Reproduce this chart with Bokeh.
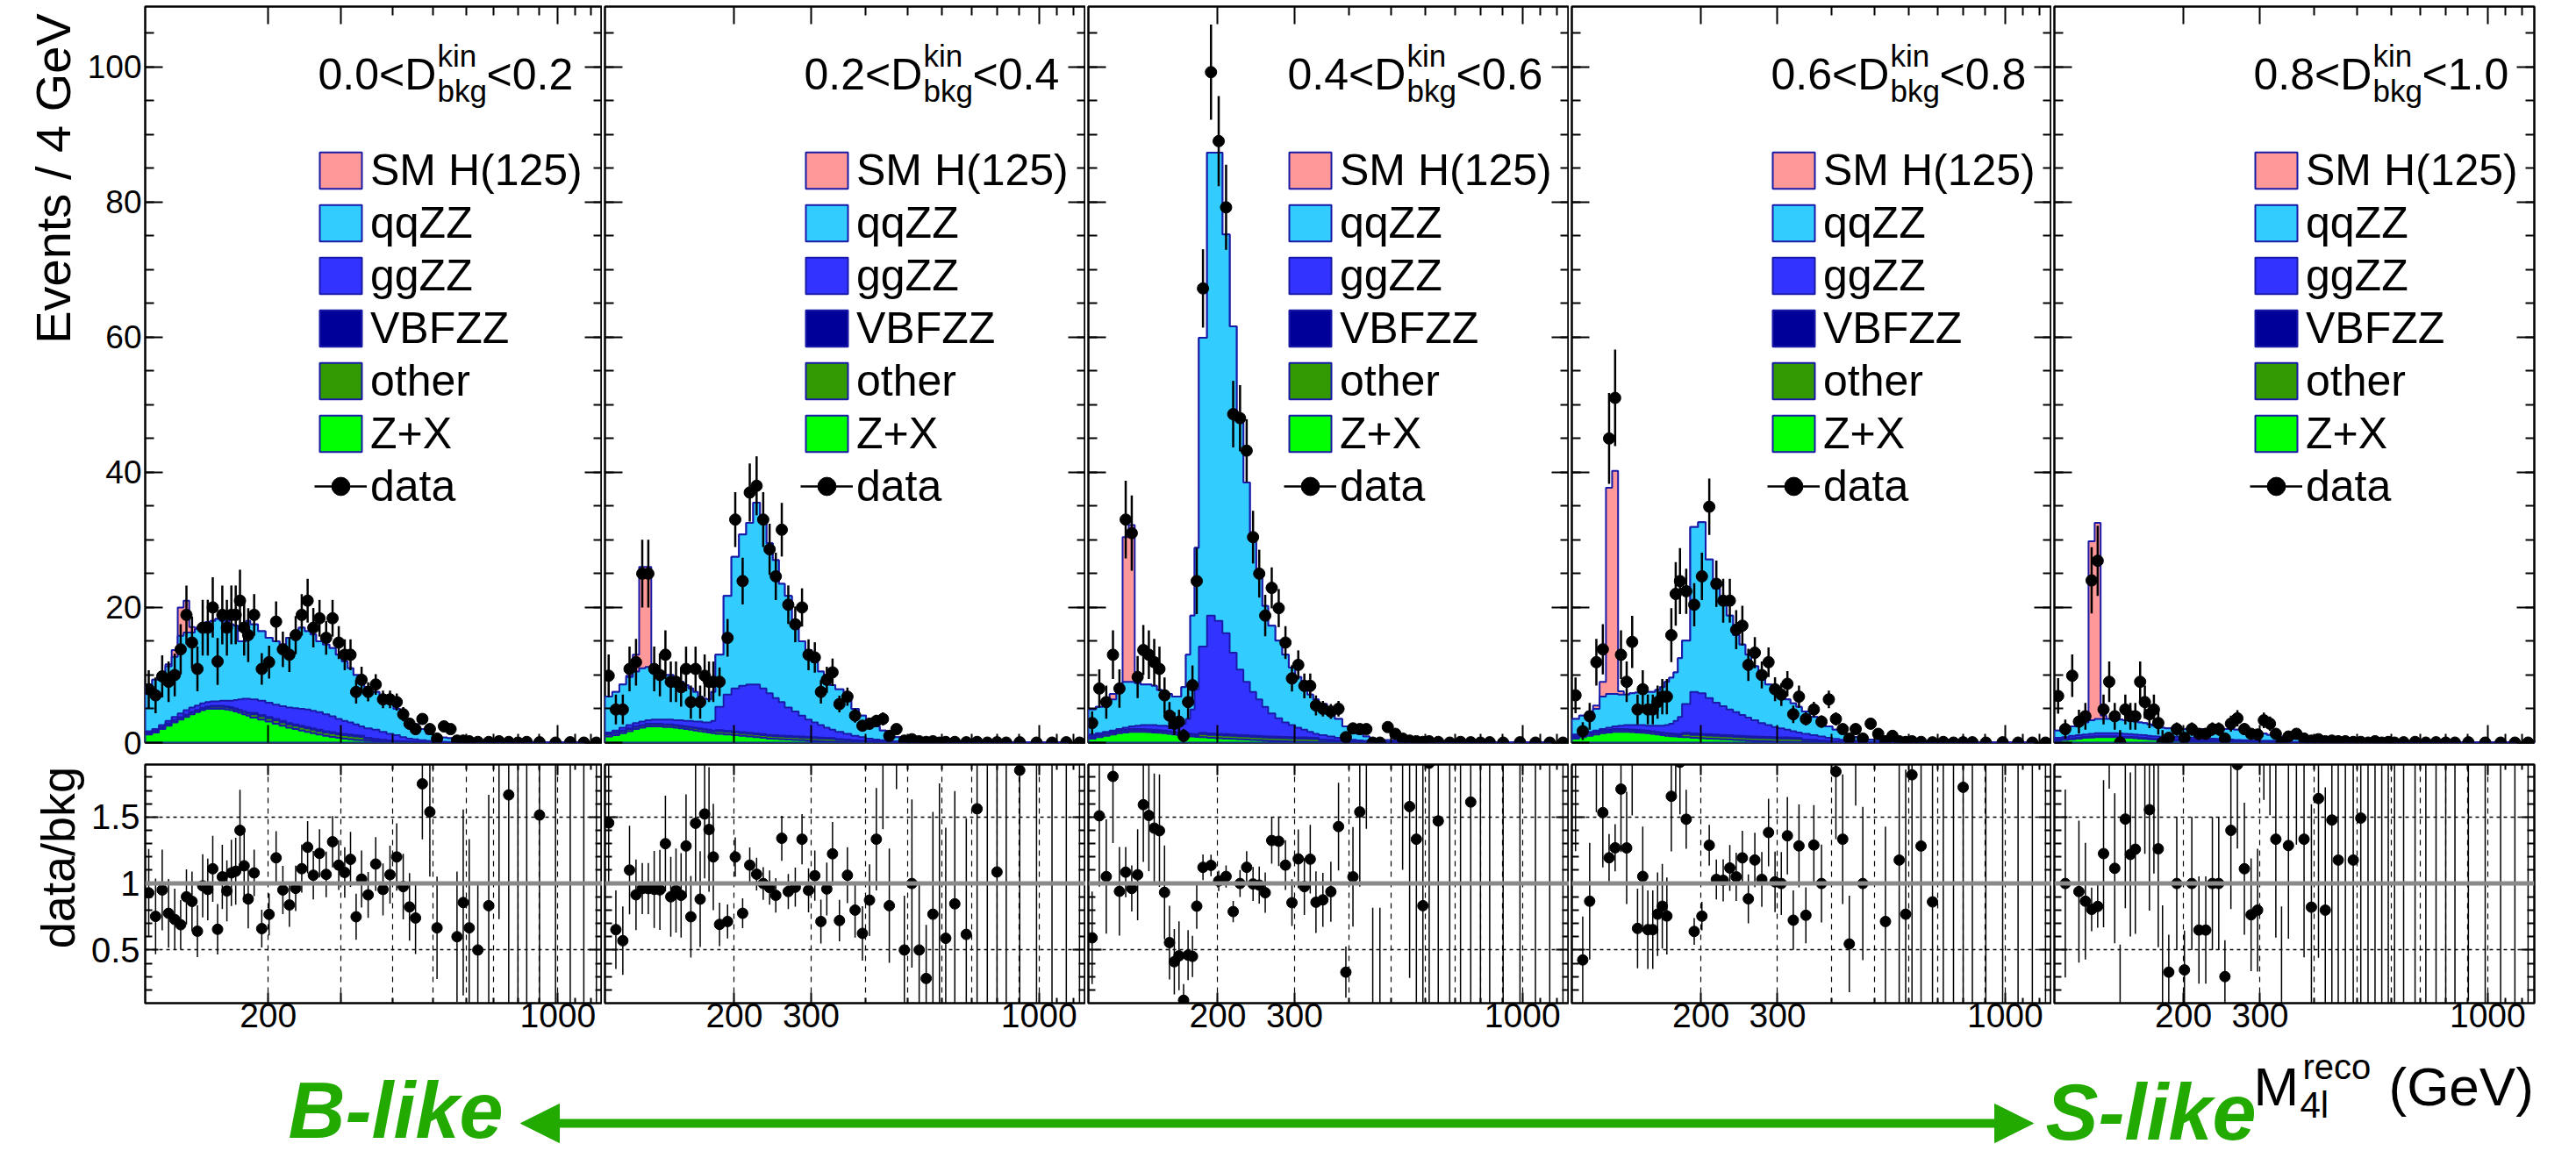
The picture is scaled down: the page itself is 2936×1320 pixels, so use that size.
from math import sqrt, pi
from bokeh.plotting import figure
from bokeh.layouts import row, column
from bokeh.models import (FixedTicker, LinearAxis, LogAxis, Range1d, Span, Label,
                          Legend, LegendItem, Arrow, NormalHead)
from bokeh.embed import file_html
from bokeh.resources import INLINE

FONT = "Liberation Sans"

# ---------------- data ----------------
EDGES = [101, 105, 109, 113, 117, 121, 125, 129, 133, 137,
         141, 145, 149, 153, 157, 161, 165, 169, 173, 177,
         181, 189, 197, 205, 213, 221, 229, 237, 245, 253,
         261, 271, 281, 291, 301, 311, 321, 331, 341, 356,
         371, 386, 401, 416, 431, 446, 461, 481, 501, 521,
         541, 561, 581, 601, 621, 661, 701, 741, 781, 821,
         861, 945, 1029, 1113, 1197, 1280]

PANEL_LABELS = [("0.0", "0.2"), ("0.2", "0.4"), ("0.4", "0.6"), ("0.6", "0.8"), ("0.8", "1.0")]
X_TICK_LABELS = ["200", "300", "1000"]
LEGEND_NAMES = ["SM H(125)", "qqZZ", "ggZZ", "VBFZZ", "other", "Z+X", "data"]

# ---- panel 1: 0.0 < D < 0.2
H1 = [0, 0, 0, 0.3, 1.0, 4.2, 4.7, 0.8, 0.2, 0,
      0, 0, 0, 0, 0, 0, 0, 0, 0, 0,
      0, 0, 0, 0, 0, 0, 0, 0, 0, 0,
      0, 0, 0, 0, 0, 0, 0, 0, 0, 0,
      0, 0, 0, 0, 0, 0, 0, 0, 0, 0,
      0, 0, 0, 0, 0, 0, 0, 0, 0, 0,
      0, 0, 0, 0, 0]
QQ1 = [6.8, 7.3, 7.7, 8.1, 8.9, 11.5, 11.5, 11.1, 11.3, 11.5,
       11.8, 11.9, 12.2, 11.8, 11.8, 11.3, 11.0, 8.6, 8.5, 11.5,
       11.1, 10.3, 9.6, 9.4, 9.1, 10.3, 11.4, 12.0, 11.6, 11.3,
       10.5, 10.3, 10.1, 9.5, 8.8, 8.0, 7.3, 6.6, 6.1, 5.6,
       5.1, 4.7, 3.9, 3.5, 2.8, 2.2, 1.65, 1.05, 0.72, 0.61,
       0.54, 0.41, 0.28, 0.25, 0.16, 0.09, 0.06, 0.045, 0.038, 0.03,
       0.022, 0.014, 0.01, 0.008, 0.007]
GG1 = [0.15, 0.15, 0.25, 0.35, 0.45, 0.55, 0.65, 0.65, 0.65, 0.65,
       0.65, 0.65, 0.65, 0.75, 0.85, 0.95, 1.25, 1.55, 1.85, 2.05,
       2.0, 2.1, 2.1, 2.1, 2.2, 2.3, 2.4, 2.5, 2.6, 2.6,
       2.6, 2.5, 2.35, 2.1, 1.9, 1.8, 1.6, 1.35, 1.4, 1.35,
       1.17, 0.98, 0.84, 0.59, 0.43, 0.37, 0.25, 0.17, 0.11, 0.08,
       0.06, 0.04, 0.04, 0.02, 0.03, 0.02, 0.01, 0.005, 0.002, 0.001,
       0.001, 0.001, 0.001, 0.001, 0.001]
VBF1 = [0.15, 0.15, 0.15, 0.15, 0.15, 0.15, 0.15, 0.15, 0.15, 0.15,
        0.15, 0.15, 0.15, 0.15, 0.15, 0.15, 0.15, 0.15, 0.15, 0.15,
        0.2, 0.2, 0.2, 0.2, 0.2, 0.2, 0.2, 0.2, 0.2, 0.2,
        0.2, 0.2, 0.2, 0.2, 0.2, 0.2, 0.2, 0.2, 0.1, 0.1,
        0.08, 0.07, 0.06, 0.05, 0.04, 0.03, 0.02, 0.02, 0.02, 0.02,
        0.02, 0.02, 0.02, 0.02, 0.005, 0.005, 0.005, 0.005, 0.005, 0.005,
        0.005, 0.005, 0.005, 0.005, 0.005]
OTHER1 = [0.2, 0.2, 0.2, 0.2, 0.2, 0.2, 0.2, 0.2, 0.2, 0.2,
          0.2, 0.3, 0.3, 0.3, 0.3, 0.3, 0.3, 0.3, 0.3, 0.3,
          0.5, 0.5, 0.5, 0.5, 0.5, 0.5, 0.5, 0.5, 0.5, 0.5,
          0.5, 0.5, 0.5, 0.5, 0.5, 0.5, 0.5, 0.5, 0.3, 0.25,
          0.2, 0.15, 0.12, 0.1, 0.08, 0.06, 0.05, 0.04, 0.03, 0.03,
          0.02, 0.02, 0.01, 0.01, 0.005, 0.005, 0.005, 0.005, 0.005, 0.005,
          0.005, 0.005, 0.005, 0.005, 0.005]
ZX1 = [1.2, 1.5, 2.0, 2.5, 3.0, 3.4, 3.8, 4.2, 4.5, 4.8,
       5.0, 5.0, 5.0, 5.0, 4.9, 4.8, 4.6, 4.4, 4.2, 4.0,
       3.7, 3.4, 3.1, 2.8, 2.5, 2.2, 2.0, 1.8, 1.6, 1.4,
       1.2, 1.0, 0.85, 0.7, 0.6, 0.5, 0.4, 0.35, 0.3, 0.2,
       0.15, 0.1, 0.08, 0.06, 0.05, 0.04, 0.03, 0.02, 0.02, 0.01,
       0.01, 0.01, 0, 0, 0, 0, 0, 0, 0, 0,
       0, 0, 0, 0, 0]
DATA1 = [7.9, 7.0, 9.8, 9.0, 10.0, 13.8, 18.9, 14.8, 10.9, 17.0,
         17.0, 20.0, 12.0, 18.9, 17.0, 18.9, 18.9, 21.0, 17.0, 15.9,
         18.9, 10.9, 11.9, 17.9, 13.8, 13.0, 15.9, 18.9, 21.0, 17.0,
         18.4, 15.5, 18.4, 14.8, 13.0, 13.0, 7.5, 9.3, 7.5, 8.6,
         6.4, 6.4, 6.0, 4.2, 2.8, 2.0, 3.5, 2.0, 0.6, 2.4,
         2.0, 0.3, 0.3, 0.2, 0.1, 0.1, 0.2, 0.1, 0.0, 0.1,
         0.05, 0.0, 0.05, 0.0, 0.0]

# ---- panel 2: 0.2 < D < 0.4
H2 = [0, 0, 0, 0.2, 2.5, 15.0, 14.8, 0.3, 0, 0,
      0, 0, 0, 0, 0, 0, 0, 0, 0, 0,
      0, 0, 0, 0, 0, 0, 0, 0, 0, 0,
      0, 0, 0, 0, 0, 0, 0, 0, 0, 0,
      0, 0, 0, 0, 0, 0, 0, 0, 0, 0,
      0, 0, 0, 0, 0, 0, 0, 0, 0, 0,
      0, 0, 0, 0, 0]
QQ2 = [5.3, 5.7, 6.4, 7.1, 7.6, 7.9, 7.9, 7.7, 7.1, 6.6,
       6.6, 6.2, 5.7, 5.3, 4.8, 4.4, 3.7, 3.5, 3.4, 4.3,
       7.7, 14.6, 19.5, 22.4, 23.9, 26.9, 25.0, 22.2, 20.4, 17.5,
       16.5, 13.4, 11.0, 10.3, 8.9, 7.9, 7.5, 6.6, 6.3, 5.1,
       4.0, 3.2, 2.6, 1.95, 1.45, 0.95, 0.62, 0.47, 0.4, 0.32,
       0.29, 0.2, 0.16, 0.12, 0.1, 0.065, 0.05, 0.042, 0.034, 0.025,
       0.016, 0.012, 0.008, 0.006, 0.005]
GG2 = [0.2, 0.3, 0.4, 0.5, 0.5, 0.5, 0.5, 0.6, 0.6, 0.7,
       0.7, 0.7, 0.8, 0.8, 0.9, 0.9, 1.0, 1.0, 1.1, 1.4,
       3.45, 5.35, 6.35, 6.85, 7.15, 7.25, 6.75, 6.15, 5.5, 4.95,
       4.2, 3.65, 3.1, 2.55, 2.2, 1.85, 1.48, 1.21, 1.08, 0.85,
       0.64, 0.52, 0.37, 0.26, 0.2, 0.14, 0.1, 0.06, 0.04, 0.02,
       0.01, 0.01, 0.01, 0.01, 0.008, 0.006, 0.004, 0.003, 0.002, 0.002,
       0.001, 0.001, 0.001, 0.001, 0.001]
VBF2 = [0.1, 0.1, 0.1, 0.1, 0.1, 0.1, 0.1, 0.1, 0.1, 0.1,
        0.1, 0.1, 0.1, 0.1, 0.1, 0.1, 0.1, 0.1, 0.1, 0.1,
        0.15, 0.15, 0.15, 0.15, 0.15, 0.15, 0.15, 0.15, 0.15, 0.15,
        0.15, 0.15, 0.15, 0.15, 0.15, 0.15, 0.15, 0.15, 0.1, 0.1,
        0.08, 0.07, 0.06, 0.05, 0.04, 0.03, 0.02, 0.02, 0.02, 0.02,
        0.02, 0.02, 0.02, 0.02, 0.005, 0.005, 0.005, 0.005, 0.005, 0.005,
        0.005, 0.005, 0.005, 0.005, 0.005]
OTHER2 = [0.3, 0.3, 0.3, 0.3, 0.3, 0.3, 0.3, 0.3, 0.3, 0.3,
          0.3, 0.3, 0.3, 0.3, 0.3, 0.3, 0.3, 0.3, 0.3, 0.3,
          0.4, 0.4, 0.4, 0.4, 0.4, 0.4, 0.4, 0.4, 0.4, 0.4,
          0.4, 0.4, 0.4, 0.4, 0.4, 0.4, 0.4, 0.4, 0.3, 0.25,
          0.2, 0.15, 0.12, 0.1, 0.08, 0.06, 0.05, 0.04, 0.03, 0.03,
          0.02, 0.02, 0.01, 0.01, 0.005, 0.005, 0.005, 0.005, 0.005, 0.005,
          0.005, 0.005, 0.005, 0.005, 0.005]
ZX2 = [0.9, 1.1, 1.4, 1.7, 2.0, 2.2, 2.4, 2.4, 2.4, 2.3,
       2.3, 2.2, 2.1, 2.0, 1.9, 1.8, 1.7, 1.6, 1.5, 1.4,
       1.3, 1.2, 1.1, 1.0, 0.9, 0.8, 0.7, 0.6, 0.55, 0.5,
       0.45, 0.4, 0.35, 0.3, 0.25, 0.2, 0.17, 0.14, 0.12, 0.1,
       0.08, 0.06, 0.05, 0.04, 0.03, 0.02, 0.01, 0.01, 0.01, 0.01,
       0.01, 0.01, 0.01, 0.01, 0, 0, 0, 0, 0, 0,
       0, 0, 0, 0, 0]
DATA2 = [9.9, 4.9, 4.9, 10.9, 11.9, 25.0, 25.0, 10.9, 10.0, 13.0,
         9.0, 9.0, 8.2, 10.9, 6.0, 10.9, 6.0, 9.9, 9.0, 9.0,
         9.0, 15.5, 33.0, 23.9, 37.0, 38.0, 33.0, 28.6, 24.6, 31.5,
         20.4, 17.5, 20.0, 13.0, 12.6, 7.5, 9.3, 10.4, 5.7, 6.8,
         4.0, 2.5, 2.8, 3.2, 3.5, 1.0, 2.0, 0.3, 0.5, 0.2,
         0.1, 0.2, 0.0, 0.1, 0.1, 0.05, 0.1, 0.0, 0.05, 0.0,
         0.05, 0.0, 0.0, 0.05, 0.0]

# ---- panel 3: 0.4 < D < 0.6
H3 = [0, 0, 0, 0.8, 1.0, 21.4, 23.2, 0.3, 0, 0,
      0, 0, 0, 0, 0, 0, 0, 0, 0, 0,
      0, 0, 0, 0, 0, 0, 0, 0, 0, 0,
      0, 0, 0, 0, 0, 0, 0, 0, 0, 0,
      0, 0, 0, 0, 0, 0, 0, 0, 0, 0,
      0, 0, 0, 0, 0, 0, 0, 0, 0, 0,
      0, 0, 0, 0, 0]
QQ3 = [3.7, 3.9, 4.1, 4.6, 5.5, 6.8, 6.6, 6.3, 6.0, 6.0,
       5.8, 5.3, 5.0, 4.8, 4.4, 4.3, 5.4, 9.5, 13.9, 20.9,
       45.7, 68.5, 69.3, 59.0, 48.3, 37.2, 29.5, 23.0, 18.9, 14.9,
       13.0, 11.5, 10.0, 8.5, 7.5, 6.7, 5.5, 5.1, 4.6, 4.0,
       2.8, 1.85, 1.58, 0.98, 0.65, 0.41, 0.31, 0.25, 0.2, 0.16,
       0.13, 0.1, 0.08, 0.065, 0.05, 0.035, 0.028, 0.02, 0.017, 0.014,
       0.01, 0.006, 0.005, 0.004, 0.002]
GG3 = [0.2, 0.2, 0.2, 0.2, 0.2, 0.3, 0.4, 0.5, 0.6, 0.65,
       0.7, 0.65, 0.7, 0.7, 0.8, 1.0, 1.4, 2.15, 3.6, 6.65,
       12.75, 17.45, 16.7, 14.95, 12.1, 9.65, 7.9, 6.45, 5.4, 4.35,
       3.38, 2.72, 2.15, 1.78, 1.41, 1.13, 0.85, 0.57, 0.63, 0.49,
       0.37, 0.29, 0.21, 0.15, 0.11, 0.09, 0.06, 0.03, 0.02, 0.01,
       0.01, 0.01, 0.01, 0.01, 0.01, 0.007, 0.005, 0.003, 0.002, 0.001,
       0.001, 0.001, 0.001, 0.001, 0.001]
VBF3 = [0.15, 0.15, 0.15, 0.15, 0.15, 0.15, 0.15, 0.15, 0.15, 0.15,
        0.15, 0.15, 0.15, 0.15, 0.15, 0.15, 0.15, 0.15, 0.15, 0.15,
        0.2, 0.2, 0.2, 0.2, 0.2, 0.2, 0.2, 0.2, 0.2, 0.2,
        0.2, 0.2, 0.2, 0.2, 0.2, 0.2, 0.2, 0.2, 0.1, 0.1,
        0.08, 0.07, 0.06, 0.05, 0.04, 0.03, 0.02, 0.02, 0.02, 0.02,
        0.02, 0.02, 0.02, 0.02, 0.003, 0.003, 0.003, 0.003, 0.003, 0.003,
        0.003, 0.003, 0.003, 0.003, 0.003]
OTHER3 = [0.25, 0.25, 0.25, 0.25, 0.25, 0.25, 0.25, 0.25, 0.25, 0.25,
          0.25, 0.25, 0.25, 0.25, 0.25, 0.25, 0.25, 0.25, 0.25, 0.25,
          0.45, 0.45, 0.45, 0.45, 0.45, 0.45, 0.45, 0.45, 0.45, 0.45,
          0.45, 0.45, 0.45, 0.45, 0.45, 0.45, 0.45, 0.45, 0.3, 0.25,
          0.2, 0.15, 0.12, 0.1, 0.08, 0.06, 0.05, 0.04, 0.03, 0.03,
          0.02, 0.02, 0.01, 0.01, 0.005, 0.005, 0.005, 0.005, 0.005, 0.005,
          0.005, 0.005, 0.005, 0.005, 0.005]
ZX3 = [0.6, 0.8, 1.0, 1.2, 1.4, 1.5, 1.6, 1.6, 1.6, 1.55,
       1.5, 1.45, 1.4, 1.3, 1.2, 1.1, 1.0, 0.95, 0.9, 0.85,
       0.8, 0.7, 0.65, 0.6, 0.55, 0.5, 0.45, 0.4, 0.35, 0.3,
       0.27, 0.23, 0.2, 0.17, 0.14, 0.12, 0.1, 0.08, 0.07, 0.06,
       0.05, 0.04, 0.03, 0.02, 0.02, 0.01, 0.01, 0.01, 0.01, 0.01,
       0.01, 0, 0, 0, 0, 0, 0, 0, 0, 0,
       0, 0, 0, 0, 0]
DATA3 = [2.9, 8.0, 6.0, 13.0, 8.0, 33.0, 31.0, 9.7, 13.7, 13.0,
         11.9, 10.9, 7.0, 4.0, 2.8, 3.1, 1.0, 6.0, 8.5, 23.9,
         67.2, 99.2, 89.0, 79.2, 48.6, 48.0, 43.2, 30.4, 25.0, 18.8,
         22.9, 19.9, 14.8, 9.5, 11.5, 8.4, 8.4, 5.5, 5.0, 4.6,
         5.0, 0.8, 2.1, 2.0, 2.0, 0.0, 0.0, 2.3, 1.3, 0.6,
         0.3, 0.2, 0.1, 0.2, 0.1, 0.0, 0.1, 0.05, 0.0, 0.05,
         0.0, 0.05, 0.0, 0.0, 0.0]

# ---- panel 4: 0.6 < D < 0.8
H4 = [0, 0, 0, 0.5, 2.2, 30.5, 33.0, 0.5, 0, 0,
      0, 0, 0, 0, 0, 0, 0, 0, 0, 0,
      0, 0, 0, 0, 0, 0, 0, 0, 0, 0,
      0, 0, 0, 0, 0, 0, 0, 0, 0, 0,
      0, 0, 0, 0, 0, 0, 0, 0, 0, 0,
      0, 0, 0, 0, 0, 0, 0, 0, 0, 0,
      0, 0, 0, 0, 0]
QQ4 = [2.3, 2.6, 2.9, 3.2, 4.8, 5.0, 4.8, 4.6, 4.5, 4.7,
       4.8, 4.9, 5.0, 5.0, 5.3, 5.7, 6.4, 6.8, 7.2, 8.7,
       9.4, 24.4, 25.3, 20.5, 16.9, 15.1, 13.9, 11.4, 10.4, 9.3,
       8.0, 6.8, 6.0, 5.5, 5.0, 4.5, 4.1, 3.8, 3.3, 2.7,
       2.2, 1.7, 1.35, 1.08, 0.78, 0.55, 0.42, 0.32, 0.25, 0.2,
       0.16, 0.12, 0.09, 0.07, 0.055, 0.04, 0.03, 0.023, 0.018, 0.014,
       0.01, 0.006, 0.004, 0.003, 0.002]
GG4 = [0.2, 0.2, 0.2, 0.2, 0.2, 0.3, 0.4, 0.5, 0.6, 0.65,
       0.7, 0.75, 0.7, 0.8, 0.9, 1.0, 1.2, 1.45, 1.9, 2.55,
       4.25, 6.15, 6.0, 5.35, 4.7, 4.25, 3.8, 3.45, 3.1, 2.75,
       2.38, 2.02, 1.75, 1.48, 1.31, 1.13, 0.95, 0.77, 0.83, 0.69,
       0.57, 0.44, 0.34, 0.25, 0.18, 0.15, 0.1, 0.06, 0.04, 0.02,
       0.01, 0.01, 0.01, 0.01, 0.015, 0.01, 0.007, 0.005, 0.003, 0.002,
       0.002, 0.001, 0.001, 0.001, 0.001]
VBF4 = [0.15, 0.15, 0.15, 0.15, 0.15, 0.15, 0.15, 0.15, 0.15, 0.15,
        0.15, 0.15, 0.15, 0.15, 0.15, 0.15, 0.15, 0.15, 0.15, 0.15,
        0.2, 0.2, 0.2, 0.2, 0.2, 0.2, 0.2, 0.2, 0.2, 0.2,
        0.2, 0.2, 0.2, 0.2, 0.2, 0.2, 0.2, 0.2, 0.1, 0.1,
        0.08, 0.07, 0.06, 0.05, 0.04, 0.03, 0.02, 0.02, 0.02, 0.02,
        0.02, 0.02, 0.02, 0.02, 0.003, 0.003, 0.003, 0.003, 0.003, 0.003,
        0.003, 0.003, 0.003, 0.003, 0.003]
OTHER4 = [0.25, 0.25, 0.25, 0.25, 0.25, 0.25, 0.25, 0.25, 0.25, 0.25,
          0.25, 0.25, 0.25, 0.25, 0.25, 0.25, 0.25, 0.25, 0.25, 0.25,
          0.45, 0.45, 0.45, 0.45, 0.45, 0.45, 0.45, 0.45, 0.45, 0.45,
          0.45, 0.45, 0.45, 0.45, 0.45, 0.45, 0.45, 0.45, 0.3, 0.25,
          0.2, 0.15, 0.12, 0.1, 0.08, 0.06, 0.05, 0.04, 0.03, 0.03,
          0.02, 0.02, 0.01, 0.01, 0.005, 0.005, 0.005, 0.005, 0.005, 0.005,
          0.005, 0.005, 0.005, 0.005, 0.005]
ZX4 = [0.6, 0.8, 1.0, 1.2, 1.4, 1.5, 1.6, 1.6, 1.6, 1.55,
       1.5, 1.45, 1.4, 1.3, 1.2, 1.1, 1.0, 0.95, 0.9, 0.85,
       0.8, 0.7, 0.65, 0.6, 0.55, 0.5, 0.45, 0.4, 0.35, 0.3,
       0.27, 0.23, 0.2, 0.17, 0.14, 0.12, 0.1, 0.08, 0.07, 0.06,
       0.05, 0.04, 0.03, 0.02, 0.02, 0.01, 0.01, 0.01, 0.01, 0.01,
       0.01, 0, 0, 0, 0, 0, 0, 0, 0, 0,
       0, 0, 0, 0, 0]
DATA4 = [7.0, 1.7, 3.9, 11.9, 13.8, 45.0, 51.0, 13.0, 9.0, 14.9,
         4.9, 7.9, 4.9, 4.9, 6.0, 6.8, 6.8, 15.9, 22.0, 23.9,
         22.4, 20.4, 24.6, 34.9, 23.5, 21.0, 21.0, 16.7, 17.3, 11.5,
         13.3, 10.0, 11.9, 7.9, 7.1, 8.7, 4.2, 6.8, 3.5, 4.9,
         3.1, 6.4, 3.5, 2.0, 0.6, 2.0, 0.6, 2.8, 1.3, 0.2,
         1.0, 0.2, 0.1, 0.2, 0.1, 0.05, 0.1, 0.0, 0.05, 0.05,
         0.0, 0.05, 0.0, 0.0, 0.0]

# ---- panel 5: 0.8 < D < 1.0
H5 = [0, 0, 0, 0.5, 1.5, 26.5, 29.0, 0.5, 0, 0,
      0, 0, 0, 0, 0, 0, 0, 0, 0, 0,
      0, 0, 0, 0, 0, 0, 0, 0, 0, 0,
      0, 0, 0, 0, 0, 0, 0, 0, 0, 0,
      0, 0, 0, 0, 0, 0, 0, 0, 0, 0,
      0, 0, 0, 0, 0, 0, 0, 0, 0, 0,
      0, 0, 0, 0, 0]
QQ5 = [1.1, 1.2, 1.4, 1.7, 1.8, 2.0, 2.1, 2.1, 2.1, 2.1,
       2.05, 2.0, 1.95, 1.9, 1.85, 1.8, 1.7, 1.55, 1.4, 1.35,
       1.25, 1.15, 1.2, 1.25, 1.3, 1.35, 1.4, 1.45, 1.5, 1.55,
       1.5, 1.45, 1.4, 1.23, 1.06, 0.9, 0.73, 0.65, 0.58, 0.45,
       0.37, 0.285, 0.23, 0.18, 0.138, 0.105, 0.08, 0.065, 0.048, 0.04,
       0.032, 0.024, 0.02, 0.016, 0.012, 0.01, 0.008, 0.006, 0.005, 0.004,
       0.003, 0.002, 0.001, 0.001, 0.0005]
GG5 = [0.25, 0.25, 0.35, 0.35, 0.35, 0.4, 0.45, 0.45, 0.45, 0.45,
       0.45, 0.45, 0.4, 0.4, 0.4, 0.4, 0.35, 0.35, 0.35, 0.32,
       0.3, 0.35, 0.33, 0.31, 0.3, 0.27, 0.24, 0.21, 0.18, 0.15,
       0.12, 0.08, 0.04, 0.02, 0.02, 0.02, 0.02, 0.02, 0.045, 0.03,
       0.02, 0.02, 0.015, 0.01, 0.005, 0.005, 0.005, 0.005, 0.004, 0.004,
       0.003, 0.003, 0.002, 0.002, 0.002, 0.001, 0.001, 0.001, 0.001, 0.001,
       0.001, 0.001, 0.001, 0.001, 0.001]
VBF5 = [0.05, 0.05, 0.05, 0.05, 0.05, 0.05, 0.05, 0.05, 0.05, 0.05,
        0.05, 0.05, 0.05, 0.05, 0.05, 0.05, 0.05, 0.05, 0.05, 0.05,
        0.1, 0.1, 0.1, 0.1, 0.1, 0.1, 0.1, 0.1, 0.1, 0.1,
        0.1, 0.1, 0.1, 0.1, 0.1, 0.1, 0.1, 0.1, 0.03, 0.03,
        0.03, 0.03, 0.03, 0.03, 0.03, 0.03, 0.01, 0.01, 0.01, 0.01,
        0.01, 0.01, 0.01, 0.01, 0.001, 0.001, 0.001, 0.001, 0.001, 0.001,
        0.001, 0.001, 0.001, 0.001, 0.001]
OTHER5 = [0.1, 0.1, 0.1, 0.1, 0.1, 0.1, 0.1, 0.1, 0.1, 0.1,
          0.1, 0.1, 0.1, 0.1, 0.1, 0.1, 0.1, 0.1, 0.1, 0.1,
          0.1, 0.1, 0.1, 0.1, 0.1, 0.1, 0.1, 0.1, 0.1, 0.1,
          0.1, 0.1, 0.1, 0.1, 0.1, 0.1, 0.1, 0.1, 0.03, 0.03,
          0.03, 0.03, 0.03, 0.03, 0.03, 0.03, 0.005, 0.005, 0.005, 0.005,
          0.005, 0.005, 0.005, 0.005, 0.005, 0.005, 0.005, 0.005, 0.005, 0.005,
          0.005, 0.005, 0.005, 0.005, 0.005]
ZX5 = [0.3, 0.4, 0.5, 0.6, 0.7, 0.75, 0.8, 0.8, 0.8, 0.8,
       0.75, 0.7, 0.7, 0.65, 0.6, 0.55, 0.5, 0.45, 0.4, 0.38,
       0.35, 0.3, 0.27, 0.24, 0.2, 0.18, 0.16, 0.14, 0.12, 0.1,
       0.08, 0.07, 0.06, 0.05, 0.04, 0.03, 0.025, 0.02, 0.015, 0.01,
       0, 0, 0, 0, 0, 0, 0, 0, 0, 0,
       0, 0, 0, 0, 0, 0, 0, 0, 0, 0,
       0, 0, 0, 0, 0]
DATA5 = [6.9, 2.0, 9.9, 3.1, 3.9, 24.0, 26.9, 4.9, 9.0, 3.9,
         0.0, 4.9, 3.9, 3.9, 9.0, 6.0, 4.2, 4.9, 2.9, 0.0,
         0.7, 2.0, 0.7, 2.0, 1.3, 1.3, 2.0, 2.0, 0.6, 2.8,
         3.6, 2.0, 1.3, 1.2, 3.3, 2.8, 1.3, 0.0, 0.9, 1.3,
         0.6, 0.3, 0.5, 0.2, 0.3, 0.2, 0.2, 0.1, 0.1, 0.0,
         0.2, 0.0, 0.1, 0.0, 0.05, 0.1, 0.0, 0.05, 0.0, 0.0,
         0.05, 0.0, 0.0, 0.0, 0.0]

PANELS = [
    dict(h=H1, qq=QQ1, gg=GG1, vbf=VBF1, other=OTHER1, zx=ZX1, data=DATA1),
    dict(h=H2, qq=QQ2, gg=GG2, vbf=VBF2, other=OTHER2, zx=ZX2, data=DATA2),
    dict(h=H3, qq=QQ3, gg=GG3, vbf=VBF3, other=OTHER3, zx=ZX3, data=DATA3),
    dict(h=H4, qq=QQ4, gg=GG4, vbf=VBF4, other=OTHER4, zx=ZX4, data=DATA4),
    dict(h=H5, qq=QQ5, gg=GG5, vbf=VBF5, other=OTHER5, zx=ZX5, data=DATA5),
]

# ---------------- style ----------------
C_H, C_QQ, C_GG, C_VBF, C_OTH, C_ZX = "#ff9999", "#33ccff", "#3333ff", "#000099", "#339900", "#00ff00"
OUTLINE = "#1a1aa8"
GREEN = "#22aa00"

STRIP_W = 96
FRAME_W = [521, 548, 548, 547, 547]
LEFT_B = [165 - STRIP_W, 3, 3, 3, 3]
RIGHT_B = [0, 0, 0, 0, 48]
TOP_FH = 839
RAT_FH = 272
TOP_BOT_B = 23
RAT_TOP_B = 2
TOP_H = 7 + TOP_FH + TOP_BOT_B
RAT_H = RAT_TOP_B + RAT_FH + 50
BASE_SHIFT = 0.28  # em shift applied to alphabetic-baseline labels

X_MAJOR = [200, 300, 1000]
X_MINOR = [400, 500, 600, 700, 800, 900, 1100, 1200]

NB = len(EDGES) - 1
CENTERS = [(EDGES[i] + EDGES[i + 1]) / 2 for i in range(NB)]
WIDTHS = [EDGES[i + 1] - EDGES[i] for i in range(NB)]


def step_poly(vals):
    xs, ys = [EDGES[0]], [0.0]
    for i, v in enumerate(vals):
        xs += [EDGES[i], EDGES[i + 1]]
        ys += [v, v]
    xs.append(EDGES[-1])
    ys.append(0.0)
    return xs, ys


def style_axis(ax, major_in, minor_in, label_px=None, standoff=4):
    ax.major_tick_in = major_in
    ax.major_tick_out = 0
    ax.minor_tick_in = minor_in
    ax.minor_tick_out = 0
    ax.major_tick_line_width = 2
    ax.minor_tick_line_width = 2
    ax.major_tick_line_color = "black"
    ax.minor_tick_line_color = "black"
    ax.axis_line_color = None
    ax.axis_label = None
    if label_px is None:
        ax.major_label_text_font_size = "0px"
        ax.major_label_standoff = 0
    else:
        ax.major_label_text_font_size = label_px
        ax.major_label_text_font = FONT
        ax.major_label_text_color = "black"
        ax.major_label_standoff = standoff


def base_fig(i, y0, y1, fh, top_b, bottom_b):
    p = figure(x_axis_type="log", x_range=Range1d(EDGES[0], EDGES[-1]), y_range=Range1d(y0, y1),
               frame_width=FRAME_W[i], frame_height=fh,
               min_border_left=LEFT_B[i], min_border_right=RIGHT_B[i],
               min_border_top=top_b, min_border_bottom=bottom_b,
               toolbar_location=None, output_backend="svg")
    p.outline_line_color = "black"
    p.outline_line_width = 2.5
    p.background_fill_color = "white"
    p.border_fill_color = "white"
    return p


def x_overrides(i):
    d = {200: "200", 300: "300", 1000: "1000"}
    if i == 0:
        d[300] = ""
    return d


def make_top(i, comp):
    p = base_fig(i, 0, 108.9, TOP_FH, 7, TOP_BOT_B)
    p.xgrid.visible = False
    p.ygrid.visible = False
    p.xaxis.ticker = FixedTicker(ticks=X_MAJOR, minor_ticks=X_MINOR)
    style_axis(p.xaxis[0], 20, 10)
    p.yaxis.ticker = FixedTicker(ticks=[0, 20, 40, 60, 80, 100], minor_ticks=list(range(5, 110, 5)))
    if i == 0:
        style_axis(p.yaxis[0], 20, 10, "37px", 4)
    else:
        style_axis(p.yaxis[0], 20, 10)
    ax_top = LogAxis(ticker=FixedTicker(ticks=X_MAJOR, minor_ticks=X_MINOR))
    style_axis(ax_top, 20, 10)
    p.add_layout(ax_top, "above")
    ax_r = LinearAxis(ticker=FixedTicker(ticks=[0, 20, 40, 60, 80, 100], minor_ticks=list(range(5, 110, 5))))
    style_axis(ax_r, 20, 10)
    p.add_layout(ax_r, "right")

    zx, oth, vbf, gg, qq, h = comp["zx"], comp["other"], comp["vbf"], comp["gg"], comp["qq"], comp["h"]
    l1 = list(zx)
    l2 = [a + b for a, b in zip(l1, oth)]
    l3 = [a + b for a, b in zip(l2, vbf)]
    l4 = [a + b for a, b in zip(l3, gg)]
    l5 = [a + b for a, b in zip(l4, qq)]
    l6 = [a + b for a, b in zip(l5, h)]
    rends = {}
    for key, lev, col in [("h", l6, C_H), ("qq", l5, C_QQ), ("gg", l4, C_GG),
                          ("vbf", l3, C_VBF), ("other", l2, C_OTH), ("zx", l1, C_ZX)]:
        xs, ys = step_poly(lev)
        rends[key] = p.patch(xs, ys, fill_color=col, line_color=OUTLINE, line_width=2)

    data = comp["data"]
    lo, hi = [], []
    for d, w in zip(data, WIDTHS):
        if d > 0:
            e = sqrt(4.0 * d / w)
            lo.append(d - e)
            hi.append(d + e)
        else:
            lo.append(0.0)
            hi.append(1.84 * 4.0 / w)
    seg = p.segment(x0=CENTERS, y0=lo, x1=CENTERS, y1=hi, line_color="black", line_width=2.5)
    sc = p.scatter(CENTERS, data, size=13, fill_color="black", line_color="black")

    # panel title with sub/superscripts (screen units relative to the frame)
    lo_s, hi_s = PANEL_LABELS[i]
    tl = 197 if i == 0 else 227
    yb = 748
    for txt, dx, dy, fs in [(lo_s + "<D", 0, 0, 50), ("kin", 136, 25, 35),
                            ("bkg", 136, -15, 35), ("<" + hi_s, 192, 0, 50)]:
        p.add_layout(Label(x=tl + dx, y=yb + dy + BASE_SHIFT * fs, x_units="screen", y_units="screen",
                           text=txt, text_font=FONT, text_font_size=f"{fs}px", text_color="black",
                           text_baseline="alphabetic", text_align="left"))

    items = [LegendItem(label=LEGEND_NAMES[0], renderers=[rends["h"]]),
             LegendItem(label=LEGEND_NAMES[1], renderers=[rends["qq"]]),
             LegendItem(label=LEGEND_NAMES[2], renderers=[rends["gg"]]),
             LegendItem(label=LEGEND_NAMES[3], renderers=[rends["vbf"]]),
             LegendItem(label=LEGEND_NAMES[4], renderers=[rends["other"]]),
             LegendItem(label=LEGEND_NAMES[5], renderers=[rends["zx"]]),
             LegendItem(label=LEGEND_NAMES[6], renderers=[seg, sc])]
    lx = 193 if i == 0 else 223
    leg = Legend(items=items, location=(lx, 263), padding=0, margin=0, spacing=2,
                 glyph_width=60, glyph_height=52, label_height=52, label_standoff=4,
                 label_text_font=FONT, label_text_font_size="50px", label_text_color="black",
                 border_line_color=None, background_fill_alpha=0)
    p.add_layout(leg)
    return p


def make_ratio(i, comp):
    p = base_fig(i, 0.1, 1.895, RAT_FH, RAT_TOP_B, 50)
    p.xaxis.ticker = FixedTicker(ticks=X_MAJOR, minor_ticks=X_MINOR)
    style_axis(p.xaxis[0], 12, 6, "39px", 0)
    p.xaxis.major_label_overrides = x_overrides(i)
    yminor = [0.2, 0.3, 0.4, 0.6, 0.7, 0.8, 0.9, 1.1, 1.2, 1.3, 1.4, 1.6, 1.7, 1.8]
    p.yaxis.ticker = FixedTicker(ticks=[0.5, 1.0, 1.5], minor_ticks=yminor)
    if i == 0:
        style_axis(p.yaxis[0], 15, 8, "40px", 6)
        p.yaxis.major_label_overrides = {0.5: "0.5", 1.0: "1", 1.5: "1.5"}
    else:
        style_axis(p.yaxis[0], 15, 8)
    ax_top = LogAxis(ticker=FixedTicker(ticks=X_MAJOR, minor_ticks=X_MINOR))
    style_axis(ax_top, 12, 6)
    p.add_layout(ax_top, "above")
    ax_r = LinearAxis(ticker=FixedTicker(ticks=[0.5, 1.0, 1.5], minor_ticks=yminor))
    style_axis(ax_r, 15, 8)
    p.add_layout(ax_r, "right")

    p.xgrid.ticker = FixedTicker(ticks=[200, 300, 400, 500, 600, 700, 800, 900, 1000])
    p.xgrid.grid_line_color = "black"
    p.xgrid.grid_line_dash = "6 6"
    p.xgrid.grid_line_width = 1.2
    p.ygrid.ticker = FixedTicker(ticks=[0.5, 1.5])
    p.ygrid.grid_line_color = "black"
    p.ygrid.grid_line_dash = "4 4"
    p.ygrid.grid_line_width = 1.5
    p.add_layout(Span(location=1.0, dimension="width", line_color="#8a8a8a", line_width=5))

    tot = [a + b + c + d + e + f for a, b, c, d, e, f in
           zip(comp["zx"], comp["other"], comp["vbf"], comp["gg"], comp["qq"], comp["h"])]
    r, rlo, rhi = [], [], []
    for d, w, t in zip(comp["data"], WIDTHS, tot):
        t = max(t, 1e-4)
        if d > 0:
            e = sqrt(4.0 * d / w)
            r.append(d / t)
            rlo.append((d - e) / t)
            rhi.append((d + e) / t)
        else:
            r.append(0.0)
            rlo.append(0.0)
            rhi.append(1.84 * 4.0 / w / t)
    p.segment(x0=CENTERS, y0=rlo, x1=CENTERS, y1=rhi, line_color="black", line_width=1.5)
    p.scatter(CENTERS, r, size=12, fill_color="black", line_color="black")
    return p


def strip(h, y_top, text, fs, x_base, y_end):
    s = figure(width=STRIP_W, height=h, x_range=Range1d(0, STRIP_W), y_range=Range1d(y_top + h, y_top),
               min_border=0, toolbar_location=None, output_backend="svg",
               x_axis_location=None, y_axis_location=None)
    s.grid.visible = False
    s.outline_line_color = None
    s.border_fill_color = "white"
    s.background_fill_color = "white"
    s.add_layout(Label(x=x_base - BASE_SHIFT * fs, y=y_end, text=text, angle=pi / 2, text_font=FONT,
                       text_font_size=f"{fs}px", text_align="right", text_baseline="alphabetic",
                       text_color="black"))
    return s


tops = [make_top(i, PANELS[i]) for i in range(5)]
rats = [make_ratio(i, PANELS[i]) for i in range(5)]
strip_top = strip(TOP_H, 0, "Events / 4 GeV", 56, 76, 8)
strip_rat = strip(RAT_H, TOP_H, "data/bkg", 54, 81, 872)

# bottom annotation strip (page coordinates)
y_bot0 = TOP_H + RAT_H
pb = figure(width=2936, height=1320 - y_bot0, x_range=Range1d(0, 2936), y_range=Range1d(1320, y_bot0),
            min_border=0, toolbar_location=None, output_backend="svg",
            x_axis_location=None, y_axis_location=None)
pb.grid.visible = False
pb.outline_line_color = None
pb.border_fill_color = "white"
pb.add_layout(Arrow(x_start=593, y_start=1280, x_end=2317, y_end=1280, line_color=GREEN, line_width=10,
                    start=NormalHead(size=44, fill_color=GREEN, line_color=GREEN),
                    end=NormalHead(size=44, fill_color=GREEN, line_color=GREEN)))
for txt, x, y in [("B-like", 328, 1291), ("S-like", 2331, 1293)]:
    pb.add_layout(Label(x=x, y=y - BASE_SHIFT * 90, text=txt, text_font=FONT, text_font_size="90px",
                        text_font_style="bold italic", text_color=GREEN, text_baseline="alphabetic"))
for txt, x, y, fs in [("M", 2568, 1255, 62), ("reco", 2624, 1227, 40),
                      ("4l", 2621, 1271, 42), ("(GeV)", 2722, 1255, 62)]:
    pb.add_layout(Label(x=x, y=y - BASE_SHIFT * fs, text=txt, text_font=FONT, text_font_size=f"{fs}px",
                        text_color="black", text_baseline="alphabetic"))

layout = column(row(strip_top, *tops), row(strip_rat, *rats), pb)
open("out.html", "w").write(file_html(layout, INLINE))
